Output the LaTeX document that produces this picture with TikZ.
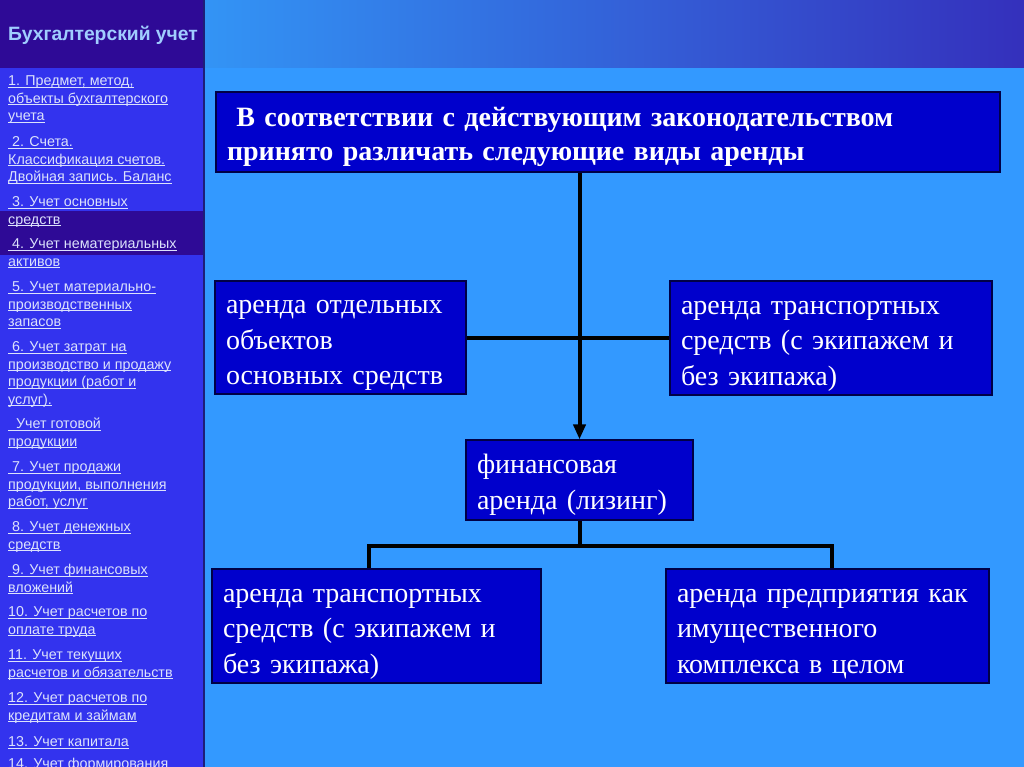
\documentclass[tikz,border=0pt]{standalone}
\usepackage{fontspec}
\setmainfont{Liberation Serif}
\newfontfamily\sidefont{Liberation Sans}
\usepackage{tikz}
\usetikzlibrary{positioning,arrows.meta}
\usepackage{xcolor}

\definecolor{sidedark}{RGB}{46,10,150}
\definecolor{sidelight}{RGB}{51,51,238}
\definecolor{sideline}{RGB}{30,30,120}
\definecolor{slidebg}{RGB}{51,153,255}
\definecolor{headleft}{RGB}{51,148,245}
\definecolor{headmid}{RGB}{48,124,228}
\definecolor{headright}{RGB}{52,48,188}
\definecolor{boxfill}{RGB}{0,0,204}
\definecolor{boxline}{RGB}{0,0,70}
\definecolor{linktext}{RGB}{220,226,252}
\definecolor{titletext}{RGB}{160,205,255}

\newcommand{\lnk}[1]{\underline{\smash{#1}}}

\begin{document}
\begin{tikzpicture}[x=1pt,y=-1pt,
  box/.style={draw=boxline,line width=1.2pt,fill=boxfill,text=white,align=left,
    inner xsep=11pt,inner ysep=0pt,font=\fontsize{28}{35.5}\selectfont,
    execute at begin node={\rule{0pt}{29pt}}},
  item/.style={anchor=north west,inner sep=0pt,align=left,text=linktext,
    font=\sidefont\fontsize{14.3}{17.5}\selectfont},
  conn/.style={line width=4pt,black}]
\useasboundingbox (0,0) rectangle (1024,767);
\clip (0,0) rectangle (1024,767);
% background of the slide
\fill[slidebg] (205,68) rectangle (1024,767);
\shade[left color=headleft,middle color=headmid,right color=headright] (205,0) rectangle (1024,68);
\fill[sidelight] (0,68) rectangle (204,767);
\fill[sidedark] (0,0) rectangle (204,68);
\fill[sidedark] (0,211) rectangle (204,255);
\draw[sideline,line width=2pt] (204,0) -- (204,767);

% side menu
\node (title) [anchor=west,inner sep=0pt,text=titletext,font=\sidefont\bfseries\fontsize{19.3}{22}\selectfont] at (8,35) {Бухгалтерский учет};
\node (m1) [item] at (8,85.5) {\lnk{1. Предмет, метод,}\\\lnk{объекты бухгалтерского}\\\lnk{учета}};
\node (m2) [item] at (8,146.5) {\lnk{\ 2. Счета.}\\\lnk{Классификация счетов.}\\\lnk{Двойная запись. Баланс}};
\node (m3) [item] at (8,206.5) {\lnk{\ 3. Учет основных}\\\lnk{средств}};
\node (m4) [item] at (8,248.5) {\lnk{\ 4. Учет нематериальных}\\\lnk{активов}};
\node (m5) [item] at (8,291.5) {\lnk{\ 5. Учет материально-}\\\lnk{производственных}\\\lnk{запасов}};
\node (m6) [item] at (8,351.5) {\lnk{\ 6. Учет затрат на}\\\lnk{производство и продажу}\\\lnk{продукции (работ и}\\\lnk{услуг).}};
\node (m6a) [item] at (8,428.5) {\lnk{\ \ Учет готовой}\\\lnk{продукции}};
\node (m7) [item] at (8,471.5) {\lnk{\ 7. Учет продажи}\\\lnk{продукции, выполнения}\\\lnk{работ, услуг}};
\node (m8) [item] at (8,531.5) {\lnk{\ 8. Учет денежных}\\\lnk{средств}};
\node (m9) [item] at (8,574.5) {\lnk{\ 9. Учет финансовых}\\\lnk{вложений}};
\node (m10) [item] at (8,616.5) {\lnk{10. Учет расчетов по}\\\lnk{оплате труда}};
\node (m11) [item] at (8,659.5) {\lnk{11. Учет текущих}\\\lnk{расчетов и обязательств}};
\node (m12) [item] at (8,702.5) {\lnk{12. Учет расчетов по}\\\lnk{кредитам и займам}};
\node (m13) [item] at (8,746.5) {\lnk{13. Учет капитала}};
\node (m14) [item] at (8,768.5) {\lnk{14. Учет формирования}};

% scheme
\node (top) [box,text width=762pt,minimum height=80pt,font=\bfseries\fontsize{28}{34}\selectfont] at (608,132)
  {\ В соответствии с действующим законодательством\\принято различать следующие виды аренды};
\node (obj) [box,text width=229pt,minimum height=113pt] at (340.5,337.5)
  {аренда отдельных\\объектов\\основных средств};
\node (trans) [box,text width=300pt,minimum height=114pt] at (831,338)
  {аренда транспортных\\средств (с экипажем и\\без экипажа)};
\node (fin) [box,text width=205pt,minimum height=80pt] at (579.5,480)
  {финансовая\\аренда (лизинг)};
\node (trans2) [box,text width=307pt,minimum height=114pt] at (376.5,626)
  {аренда транспортных\\средств (с экипажем и\\без экипажа)};
\node (ent) [box,text width=301pt,minimum height=114pt] at (827.5,626)
  {аренда предприятия как\\имущественного\\комплекса в целом};

\draw[conn,-{Triangle[length=15pt,width=12pt]}] (top.south -| fin.north) -- (fin.north);
\draw[conn] (obj.east) -- (obj.east -| trans.west);
\draw[conn] (fin.south) -- ++(0,25) coordinate (split);
\draw[conn] ([xshift=-8pt]trans2.north) |- (split) -| ([xshift=4pt]ent.north);
\end{tikzpicture}
\end{document}
